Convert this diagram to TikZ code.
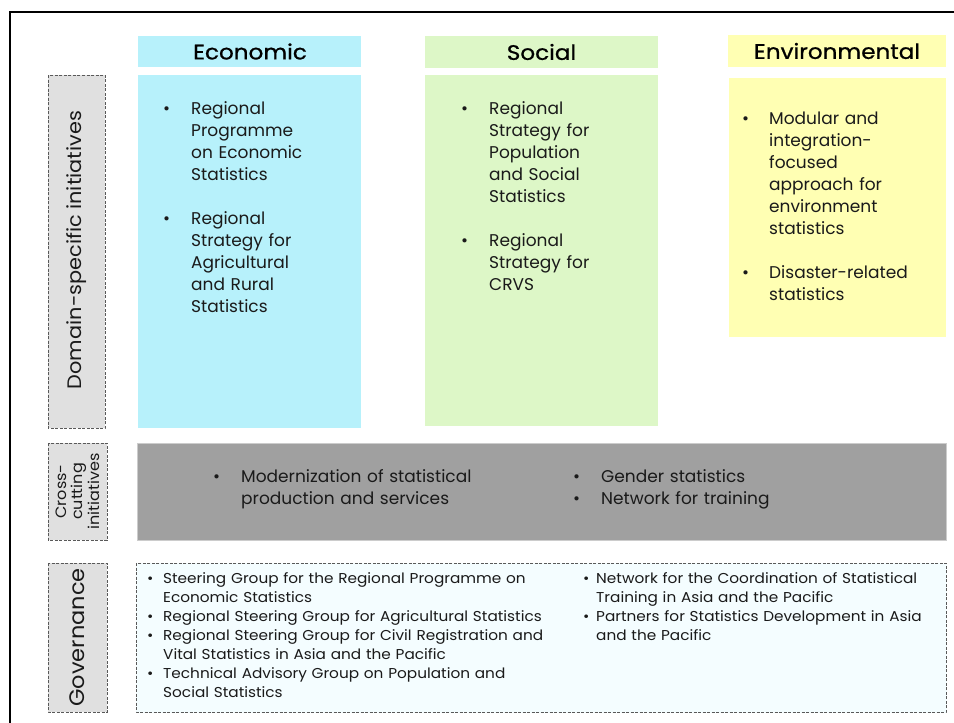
\documentclass[tikz,border=0pt]{standalone}
\usepackage{fontspec}
\setmainfont{Poppins}
\newfontfamily\widefont{Poppins}[FakeStretch=1.07]
\newfontfamily\hdrfont{Poppins}[FakeStretch=1.1, FakeBold=0.8]
\definecolor{econfill}{HTML}{B7F1FB}
\definecolor{socfill}{HTML}{DDF7C7}
\definecolor{envfill}{HTML}{FFFFB3}
\definecolor{sidefill}{HTML}{E0E0E0}
\definecolor{crossfill}{HTML}{A0A0A0}
\definecolor{govfill}{HTML}{F4FDFF}
\definecolor{ink}{HTML}{1A1A1A}
% bullet and indent for the item lists
\newcommand{\bl}[1][28pt]{\makebox[#1][l]{\textbullet}}
\newcommand{\ind}[1][28pt]{\hspace*{#1}}
\begin{document}
\begin{tikzpicture}[x=1pt, y=-1pt,
  hdr/.style={inner sep=0pt, text=black, font=\hdrfont\fontsize{21}{24}\selectfont},
  items/.style={anchor=base west, inner sep=0pt, text width=400pt, align=left,
    text=ink, font=\fontsize{17}{22}\selectfont},
  govitems/.style={items, text width=600pt, font=\widefont\fontsize{14.3}{19}\selectfont},
  sidebox/.style={draw=black!65, dash pattern=on 3pt off 1.5pt, fill=sidefill},
  sidelbl/.style={rotate=90, inner sep=0pt, align=center, text=ink}]

\useasboundingbox (0,0) rectangle (954,723);

% frame
\draw[line width=2pt] (10,723) -- (10,12) -- (954,12);

% domain columns
\fill[econfill] (138,36) rectangle (361,67);
\fill[econfill] (138,75) rectangle (361,428);
\fill[socfill] (425,36) rectangle (658,68);
\fill[socfill] (425,75) rectangle (658,426);
\fill[envfill] (728,35) rectangle (946,67);
\fill[envfill] (729,78) rectangle (946,337);

\node[hdr] (econ) at (250,51.5) {Economic};
\node[hdr] (soc) at (541.5,52) {Social};
\node[hdr] (env) at (837,51) {Environmental};

\node[items] (econlist) at (163,114) {\bl Regional\\ \ind Programme\\
  \ind on Economic\\ \ind Statistics\\[22pt]
  \bl Regional\\ \ind Strategy for\\ \ind Agricultural\\ \ind and Rural\\
  \ind Statistics};
\node[items] (soclist) at (461,114) {\bl Regional\\ \ind Strategy for\\
  \ind Population\\ \ind and Social\\ \ind Statistics\\[22pt]
  \bl Regional\\ \ind Strategy for\\ \ind CRVS};
\node[items] (envlist) at (742,124) {\bl[27pt]Modular and\\ \ind[27pt]integration-\\
  \ind[27pt]focused\\ \ind[27pt]approach for\\ \ind[27pt]environment\\
  \ind[27pt]statistics\\[22pt]
  \bl[27pt]Disaster-related\\ \ind[27pt]statistics};

% cross-cutting band
\fill[crossfill, draw=black!20] (137,443) rectangle (946,540);
\node[items] (crossa) at (213,482) {\bl Modernization of statistical\\
  \ind production and services};
\node[items] (crossb) at (573,482) {\bl Gender statistics\\ \bl Network for training};

% governance
\draw[govfill, fill=govfill] (136,563) rectangle (946,712);
\draw[black!65, dash pattern=on 3pt off 1.5pt] (136,563) rectangle (946,712);
\node[govitems] (gova) at (147,583) {\bl[16pt]Steering Group for the Regional Programme on\\
  \ind[16pt]Economic Statistics\\
  \bl[16pt]Regional Steering Group for Agricultural Statistics\\
  \bl[16pt]Regional Steering Group for Civil Registration and\\
  \ind[16pt]Vital Statistics in Asia and the Pacific\\
  \bl[16pt]Technical Advisory Group on Population and\\
  \ind[16pt]Social Statistics};
\node[govitems] (govb) at (583,583) {\bl[13pt]Network for the Coordination of Statistical\\
  \ind[13pt]Training in Asia and the Pacific\\
  \bl[13pt]Partners for Statistics Development in Asia\\
  \ind[13pt]and the Pacific};

% side labels
\draw[sidebox] (48,75) rectangle (105,428);
\node[sidelbl, font=\widefont\fontsize{19.5}{22}\selectfont] (domain) at (76.5,250) {Domain-specific initiatives};
\draw[sidebox] (48,443) rectangle (107,540);
\node[sidelbl, font=\widefont\fontsize{15}{16.5}\selectfont] (cross) at (77.5,491.5) {Cross-\\cutting\\initiatives};
\draw[sidebox] (48,563) rectangle (107,712);
\node[sidelbl, font=\widefont\fontsize{21}{24}\selectfont] (gov) at (77.5,637.5) {Governance};

\end{tikzpicture}
\end{document}
